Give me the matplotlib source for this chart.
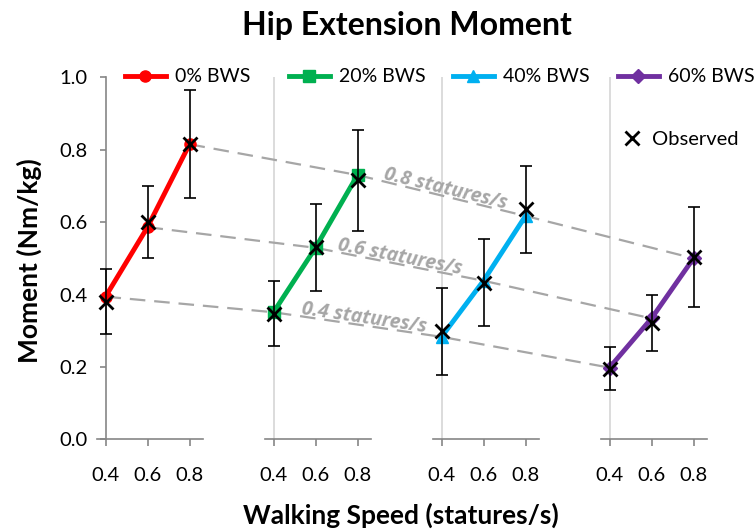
import numpy as np
import matplotlib.pyplot as plt
from matplotlib.lines import Line2D

plt.rcParams['font.family'] = ['Lato', 'DejaVu Sans']

# walking speeds within each BWS group
speeds = [0.4, 0.6, 0.8]
speed_labels = ['0.4', '0.6', '0.8']
bws_labels = ['0% BWS', '20% BWS', '40% BWS', '60% BWS']

# model (coloured line) values per BWS group
model = [
    [0.394, 0.586, 0.815],
    [0.351, 0.529, 0.730],
    [0.283, 0.438, 0.617],
    [0.198, 0.334, 0.500],
]
# observed means and SD
observed = [
    [0.380, 0.601, 0.816],
    [0.347, 0.530, 0.715],
    [0.298, 0.432, 0.635],
    [0.195, 0.322, 0.504],
]
sd = [
    [0.090, 0.100, 0.150],
    [0.089, 0.120, 0.139],
    [0.120, 0.120, 0.120],
    [0.059, 0.077, 0.139],
]
speed_line_labels = ['0.4 statures/s', '0.6 statures/s', '0.8 statures/s']

colors = ['#FF0000', '#00B050', '#00B0F0', '#7030A0']
markers = ['o', 's', '^', 'D']
msizes = [8, 9, 9, 7]
axis_gray = '#868686'
dash_gray = '#A6A6A6'

fig = plt.figure(figsize=(7.55, 5.31), dpi=100)
W, H = 755, 531
ax_l, ax_r = 90, 720
ax = fig.add_axes([ax_l / W, 1 - 439.3 / H, (ax_r - ax_l) / W, (439.3 - 77.3) / H])
x0_px, unit_px = 105.5, 42.0
ax.set_xlim((ax_l - x0_px) / unit_px, (ax_r - x0_px) / unit_px)
ax.set_ylim(0, 1.0)

group_gap = 4
xpos = [[g * group_gap + k for k in range(len(speeds))] for g in range(len(bws_labels))]

# dashed lines joining equal speeds across BWS groups
for k in range(len(speeds)):
    xs = [xpos[g][k] for g in range(len(bws_labels))]
    ys = [model[g][k] for g in range(len(bws_labels))]
    ax.plot(xs, ys, color=dash_gray, lw=1.6, dashes=(7, 4), zorder=2)

# labels on the dashed lines (between 20% and 40% groups)
label_x = [6.15, 7.0, 8.1]
for k, txt in enumerate(speed_line_labels):
    xa, xb = xpos[1][k], xpos[2][k]
    ya, yb = model[1][k], model[2][k]
    t = (label_x[k] - xa) / (xb - xa)
    yl = ya + t * (yb - ya)
    ang = np.degrees(np.arctan2(yb - ya, xb - xa))
    ax.text(label_x[k], yl + 0.02, txt, color=dash_gray, fontsize=14,
            family=['Open Sans', 'DejaVu Sans'],
            fontweight='bold', fontstyle='italic', ha='center', va='center',
            rotation=ang, transform_rotates_text=True, rotation_mode='anchor',
            zorder=2.5)

# vertical separators for each group
for g in range(1, len(bws_labels)):
    ax.plot([xpos[g][0], xpos[g][0]], [0, 1.0], color='#D9D9D9', lw=1.3, zorder=1)

# model lines
for g in range(len(bws_labels)):
    ax.plot(xpos[g], model[g], color=colors[g], lw=3.5, marker=markers[g],
            ms=msizes[g], zorder=3, clip_on=False)

# observed with error bars
for g in range(len(bws_labels)):
    ax.errorbar(xpos[g], observed[g], yerr=sd[g], fmt='none', ecolor='black',
                elinewidth=1.2, capsize=4, capthick=1.2, zorder=4)
    ax.plot(xpos[g], observed[g], ls='none', marker='x', color='black',
            ms=10, mew=2, zorder=5)

# axes decorations
for s in ['top', 'right', 'bottom']:
    ax.spines[s].set_visible(False)
ax.spines['left'].set_position(('data', 0))
ax.spines['left'].set_color(axis_gray)
ax.spines['left'].set_linewidth(1.2)
ax.set_yticks([0.0, 0.2, 0.4, 0.6, 0.8, 1.0])
ax.set_yticklabels(['0.0', '0.2', '0.4', '0.6', '0.8', '1.0'])
for g in range(len(bws_labels)):
    ax.plot([xpos[g][0] - 0.2, xpos[g][-1] + 0.33], [0, 0], color=axis_gray,
            lw=1.2, zorder=1, clip_on=False)
ax.set_xticks([x for row in xpos for x in row])
ax.set_xticklabels(speed_labels * len(bws_labels))
ax.tick_params(axis='x', direction='out', length=5, width=1.2, color=axis_gray,
               pad=15, labelsize=14.5)
ax.tick_params(axis='y', direction='out', length=4, width=1.2, color=axis_gray,
               pad=9, labelsize=14.5)

fig.text(407 / W, 1 - 25 / H, 'Hip Extension Moment', ha='center', va='center',
         fontsize=23, fontweight='bold')
fig.text(401 / W, 1 - 515 / H, 'Walking Speed (statures/s)', ha='center',
         va='center', fontsize=19, fontweight='bold')
fig.text(29 / W, 1 - 261 / H, 'Moment (Nm/kg)', ha='center', va='center',
         rotation=90, fontsize=19, fontweight='bold')

# legend entries, one per BWS group, evenly spaced
leg_x = [125, 289, 453, 618]
for g in range(len(bws_labels)):
    h = Line2D([], [], color=colors[g], lw=3.5, marker=markers[g], ms=msizes[g])
    leg = ax.legend([h], [bws_labels[g]], loc='center left',
                    bbox_to_anchor=(leg_x[g] / W, 1 - 77 / H),
                    bbox_transform=fig.transFigure, frameon=False, fontsize=14,
                    handlelength=2.1, handletextpad=0.45, borderpad=0,
                    borderaxespad=0)
    ax.add_artist(leg)
h = Line2D([], [], ls='none', marker='x', color='black', ms=10, mew=2)
leg = ax.legend([h], ['Observed'], loc='center left',
                bbox_to_anchor=(622 / W, 1 - 139 / H),
                bbox_transform=fig.transFigure, frameon=False, fontsize=14.5,
                handlelength=1.0, handletextpad=0.5, borderpad=0, borderaxespad=0)

fig.savefig('out.png', dpi=100)
